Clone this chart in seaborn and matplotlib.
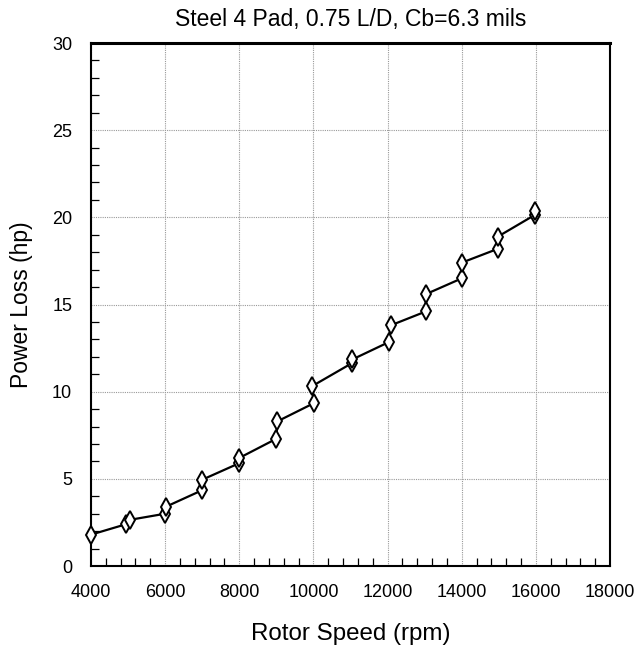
import matplotlib
matplotlib.use("Agg")
import matplotlib.pyplot as plt
from matplotlib.ticker import MultipleLocator
import pandas as pd
import seaborn as sns

# Measured power loss, two readings at each nominal speed
rotor_speed = [4000, 4950, 5050, 6000, 6020, 7000, 7000, 8000, 8000,
               9000, 9030, 10020, 9950, 11050, 11050, 12040, 12080,
               13030, 13040, 14000, 14000, 14980, 14980, 15980, 15980]
power_loss = [1.8, 2.4, 2.65, 3.0, 3.4, 4.35, 4.95, 5.9, 6.2,
              7.3, 8.3, 9.35, 10.3, 11.65, 11.85, 12.85, 13.8,
              14.6, 15.6, 16.5, 17.4, 18.2, 18.9, 20.15, 20.35]

title = "Steel 4 Pad, 0.75 L/D, Cb=6.3 mils"
x_label = "Rotor Speed (rpm)"
y_label = "Power Loss (hp)"

df = pd.DataFrame({"speed": rotor_speed, "power": power_loss})

sns.set_style("white")
plt.rcParams["font.family"] = ["Liberation Sans", "DejaVu Sans"]
plt.rcParams["text.color"] = "black"
plt.rcParams["axes.labelcolor"] = "black"

fig = plt.figure(figsize=(6.38, 6.5), dpi=100)
ax = fig.add_axes([0.1426, 0.1292, 0.8135, 0.8046])

sns.lineplot(data=df, x="speed", y="power", sort=False, estimator=None,
             color="black", linewidth=1.6, marker="d", markersize=9,
             markerfacecolor="white", markeredgecolor="black",
             markeredgewidth=1.4, ax=ax, zorder=3, clip_on=False)

ax.set_xlim(4000, 18000)
ax.set_ylim(0, 30)
ax.xaxis.set_major_locator(MultipleLocator(2000))
ax.xaxis.set_minor_locator(MultipleLocator(400))
ax.yaxis.set_major_locator(MultipleLocator(5))
ax.yaxis.set_minor_locator(MultipleLocator(1))

ax.grid(True, which="major", color="#999999", linestyle=(0, (1, 1)),
        linewidth=0.8)
ax.tick_params(which="both", direction="in", colors="black",
               labelsize=13, bottom=True, left=True, top=False, right=False)
ax.tick_params(axis="x", which="major", length=0, pad=13)
ax.tick_params(axis="y", which="major", length=0, pad=13.5)
ax.tick_params(which="minor", length=6, width=0.9)

for side, lw in (("left", 1.5), ("bottom", 1.5), ("right", 1.5), ("top", 2.2)):
    ax.spines[side].set_visible(True)
    ax.spines[side].set_color("black")
    ax.spines[side].set_linewidth(lw)

ax.set_title(title, fontsize=16.5, pad=12, color="black")
ax.set_xlabel(x_label, fontsize=17.4, labelpad=16, color="black")
ax.set_ylabel(y_label, fontsize=16.5, labelpad=14, color="black")

fig.savefig("out.png", dpi=100, facecolor="white")
